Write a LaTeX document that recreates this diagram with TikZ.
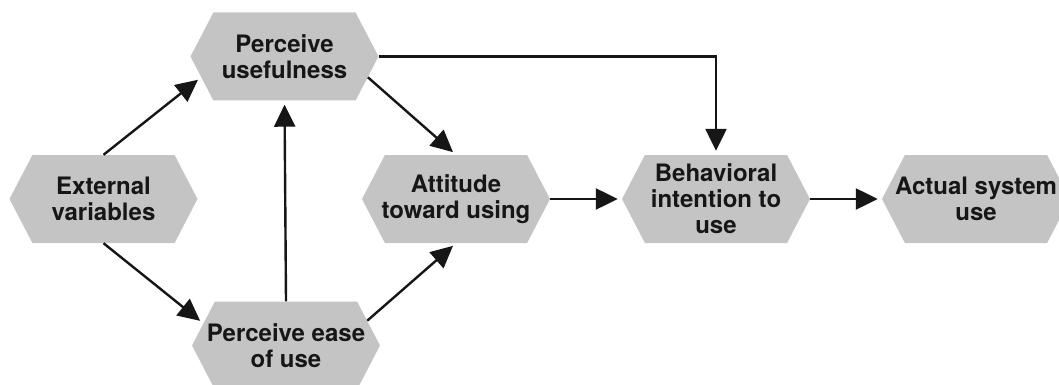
\documentclass[tikz,border=0pt]{standalone}
\usepackage{fontspec}
\setmainfont{TeX Gyre Heros}
\usetikzlibrary{shapes.symbols,arrows.meta}
\definecolor{hexfill}{RGB}{196,196,196}
\definecolor{inkc}{RGB}{22,22,22}
% one centred label line whose width does not widen the hexagon
\newcommand{\hexline}[1]{\makebox[120pt][c]{#1}}
\begin{document}
\begin{tikzpicture}[x=1pt,y=-1pt,
  hexbox/.style={signal, signal to=east and west, signal pointer angle=125,
    fill=hexfill, draw=none, inner sep=0pt,
    minimum width=188pt, minimum height=88pt,
    align=center, text=inkc,
    font=\fontsize{24}{26}\selectfont\bfseries},
  link/.style={draw=inkc, line width=2.4pt,
    -{Triangle[length=22pt,width=21pt]}, shorten >=4pt}]
\useasboundingbox (0,0) rectangle (1059,385);
\clip (0,0) rectangle (1059,385);

\node[hexbox] (ext) at (103.5,199) {\hexline{External}\\\hexline{variables}};
\node[hexbox] (pu)  at (284.5,56.5) {\hexline{Perceive}\\\hexline{usefulness}};
\node[hexbox] (pe)  at (286,345.5) {\hexline{Perceive ease}\\\hexline{of use}};
\node[hexbox] (att) at (456,199) {\hexline{Attitude}\\\hexline{toward using}};
\node[hexbox] (bi)  at (716,199) {\hexline{Behavioral}\\\hexline{intention to}\\\hexline{use}};
\node[hexbox] (asu) at (976,199) {\hexline{Actual system}\\\hexline{use}};

\draw[link] (ext.north) -- (pu.194);
\draw[link] (ext.south) -- (pe.165);
\draw[link] (pe.north) -- (pu.south);
\draw[link] (pu.-14) -- (att.north);
\draw[link] (pe.17) -- (att.south);
\draw[link] (att.east) -- (bi.west);
\draw[link] (bi.east) -- (asu.west);
\draw[link] (pu.east) -| (bi.north);
\end{tikzpicture}
\end{document}
